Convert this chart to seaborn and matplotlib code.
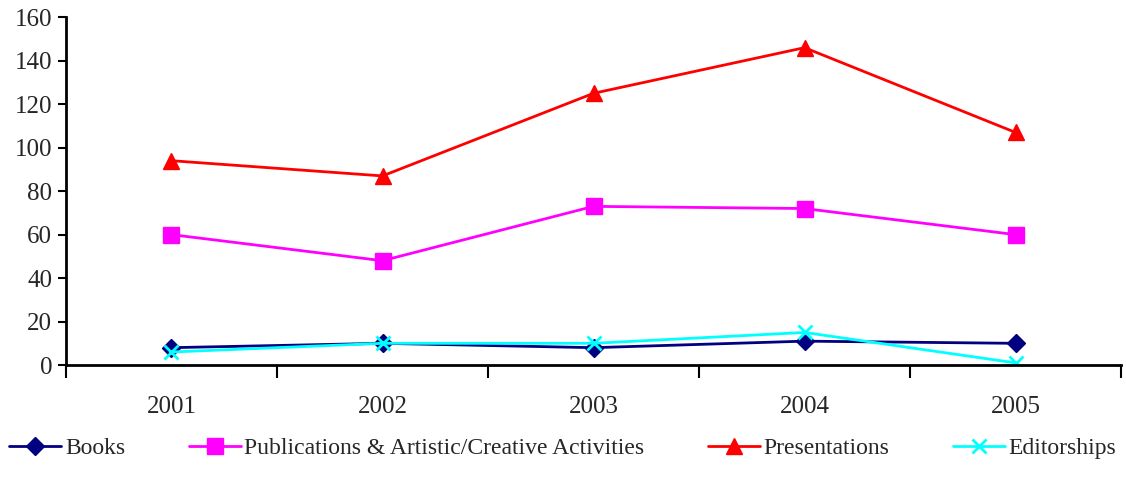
import numpy as np
import pandas as pd
import matplotlib
matplotlib.use("Agg")
import matplotlib.pyplot as plt
import seaborn as sns

# dados
anos = ["2001", "2002", "2003", "2004", "2005"]
books = [8, 10, 8, 11, 10]
publications = [60, 48, 73, 72, 60]
presentations = [94, 87, 125, 146, 107]
editorships = [6, 10, 10, 15, 1]

series = [
    ("Books", books, "#000080", "D", 9),
    ("Publications & Artistic/Creative Activities", publications, "#FF00FF", "s", 12),
    ("Presentations", presentations, "#FF0000", "^", 11),
    ("Editorships", editorships, "#00FFFF", "x", 10),
]

sns.set_style("white")
plt.rcParams["font.family"] = ["Liberation Serif", "DejaVu Serif"]

fig = plt.figure(figsize=(11.26, 4.92), dpi=100)
ax = fig.add_axes([0.0586, 0.258, 0.937, 0.707])

pos = np.arange(len(anos))
for nome, vals, cor, mk, ms in series:
    df = pd.DataFrame({"x": pos, "y": vals})
    sns.lineplot(data=df, x="x", y="y", ax=ax, color=cor, marker=mk,
                 markersize=ms, linewidth=2, markeredgecolor=cor,
                 markeredgewidth=2 if mk == "x" else 1, label=nome)

ax.set_xlim(-0.5, len(anos) - 0.5)
ax.set_ylim(0, 160)
ax.set_yticks(range(0, 161, 20))
ax.set_xticks(pos)
ax.set_xticklabels(anos)
ax.set_xticks(np.arange(-0.5, len(anos), 1), minor=True)
ax.tick_params(axis="x", which="major", bottom=True, length=0, pad=22, labelsize=18)
ax.tick_params(axis="x", which="minor", bottom=True, direction="out", length=9, width=1.5, color="black")
ax.tick_params(axis="y", left=True, direction="out", length=6, width=1.5, color="black", labelsize=18, pad=4)
ax.set_xlabel("")
ax.set_ylabel("")

for s in ["top", "right"]:
    ax.spines[s].set_visible(False)
for s in ["left", "bottom"]:
    ax.spines[s].set_color("black")
    ax.spines[s].set_linewidth(2)

h, l = ax.get_legend_handles_labels()
ax.get_legend().remove()
fig.legend(h, l, loc="center", bbox_to_anchor=(0.5, 0.088), ncol=4, frameon=False,
           fontsize=17, handlelength=2.2, handletextpad=0.15, columnspacing=2.7,
           borderaxespad=0, borderpad=0)

fig.savefig("out.png", dpi=100)
